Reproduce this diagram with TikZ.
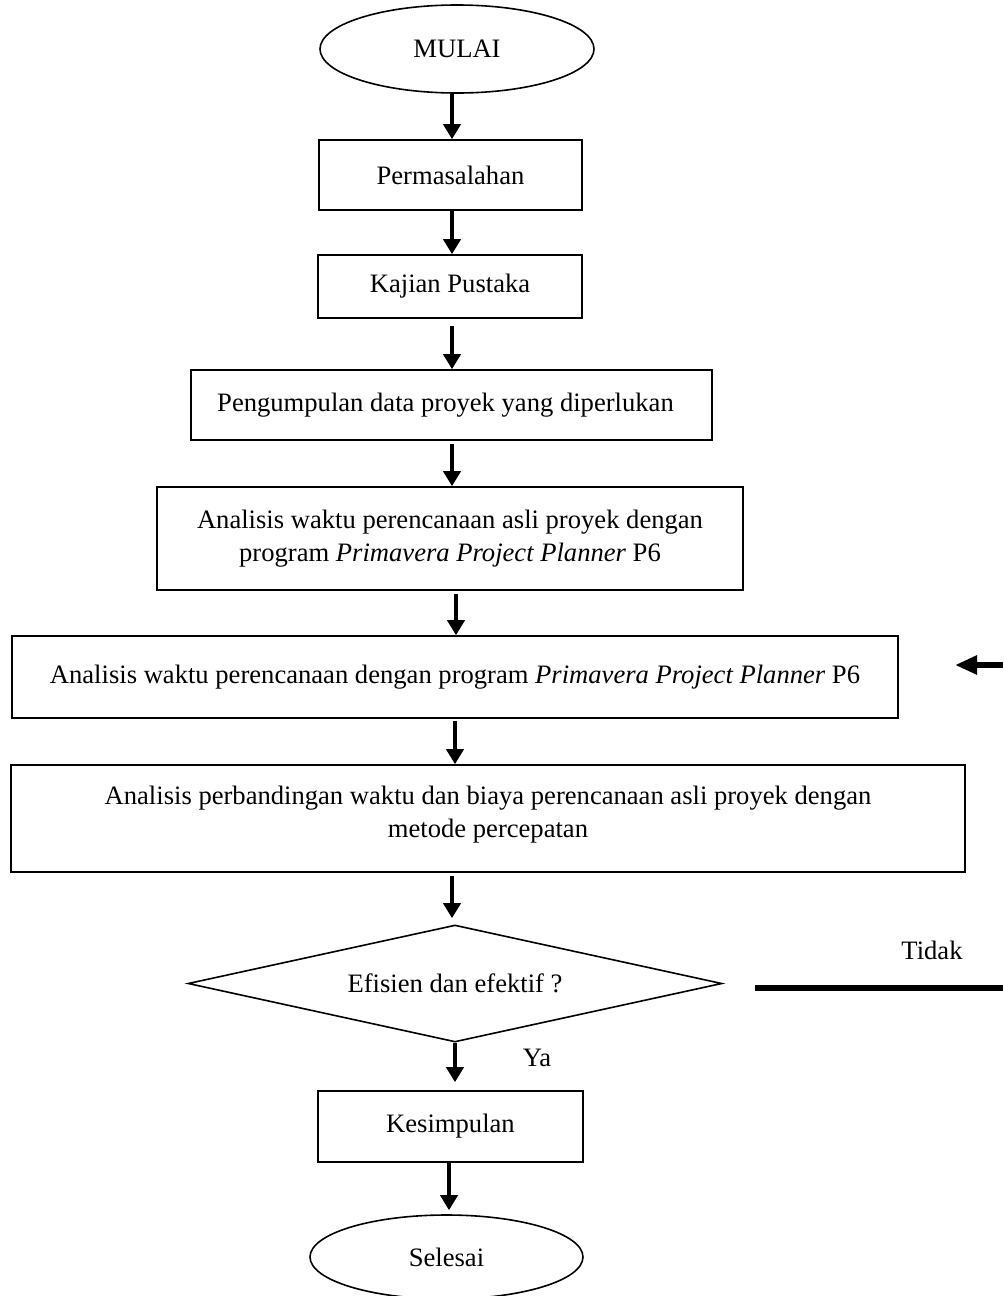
\documentclass[tikz,border=0pt]{standalone}
\usepackage{fontspec}
\setmainfont{Liberation Serif}
\usepackage{tikz}
\usetikzlibrary{positioning, arrows.meta, shapes.geometric}
\tikzset{
  flowbox/.style={draw, line width=0.8pt, rectangle, align=center, inner sep=2pt,
    font=\fontsize{13.3}{16.5}\selectfont},
  termbox/.style={draw, line width=0.8pt, ellipse, inner sep=0pt, font=\fontsize{13.3}{16.5}\selectfont},
  decbox/.style={draw, line width=0.8pt, diamond, aspect=4.56, inner sep=0pt, font=\fontsize{13.3}{16.5}\selectfont},
  arr/.style={-{Triangle[length=7.5pt, width=8.5pt]}, line width=2pt},
  fbline/.style={line width=3pt},
  fbarr/.style={-{Triangle[length=11pt, width=9pt]}, line width=3.2pt},
  lbl/.style={font=\fontsize{13.3}{14}\selectfont, inner sep=0pt},
}
\begin{document}
\begin{tikzpicture}[x=0.5pt, y=-0.5pt]
  \useasboundingbox (0,0) rectangle (1003,1296);
  \coordinate (spine) at (452,0);
  % terminals and steps
  \node[termbox, minimum width=137pt, minimum height=44pt] (mulai) at (457,49) {MULAI};
  \node[flowbox, minimum width=131.5pt, minimum height=35pt] (masalah) at (450.5,175) {Permasalahan};
  \node[flowbox, minimum width=132pt, minimum height=31.5pt] (pustaka) at (450,286.5) {Kajian Pustaka};
  \node[flowbox, minimum width=260.5pt, minimum height=35pt] (kumpul) at (451.5,405) {Pengumpulan data proyek yang diperlukan\hspace{6pt}};
  \node[flowbox, minimum width=293pt, minimum height=51.5pt] (asli) at (450,538.5)
    {Analisis waktu perencanaan asli proyek dengan\\program \textit{Primavera Project Planner} P6};
  \node[flowbox, minimum width=443pt, minimum height=41pt] (rencana) at (455,677)
    {Analisis waktu perencanaan dengan program \textit{Primavera Project Planner} P6};
  \node[flowbox, minimum width=477pt, minimum height=53.5pt, text depth=7pt] (banding) at (488,818.5)
    {Analisis perbandingan waktu dan biaya perencanaan asli proyek dengan\\metode percepatan};
  \node[decbox, minimum width=267pt, minimum height=58.5pt] (efektif) at (455,983.5) {Efisien dan efektif ?};
  \node[flowbox, minimum width=132.5pt, minimum height=35.5pt] (simpul) at (450.5,1126.5) {Kesimpulan};
  \node[termbox, minimum width=136.5pt, minimum height=42pt] (selesai) at (446.5,1257) {Selesai};
  % labels
  \node[lbl] (ya) at (537,1058) {Ya};
  \node[lbl] (tidak) at (932,950) {Tidak};
  % main flow
  \draw[arr] (mulai.south -| spine) -- (masalah.north -| spine);
  \draw[arr] (masalah.south -| spine) -- (pustaka.north -| spine);
  \draw[arr, shorten <=3.5pt] (pustaka.south -| spine) -- (kumpul.north -| spine);
  \draw[arr, shorten <=1.5pt] (kumpul.south -| spine) -- (asli.north -| spine);
  \draw[arr, shorten <=1.5pt] ([xshift=2pt]asli.south -| spine) -- ([xshift=2pt]rencana.north -| spine);
  \draw[arr, shorten <=1pt] ([xshift=1.5pt]rencana.south -| spine) -- ([xshift=1.5pt]banding.north -| spine);
  \draw[arr, shorten <=1.5pt, shorten >=3pt] (banding.south -| spine) -- (efektif.north -| spine);
  \draw[arr, shorten >=4pt] ([xshift=1.5pt]efektif.south -| spine) -- ([xshift=1.5pt]simpul.north -| spine);
  \draw[arr, shorten >=2pt] ([xshift=-1.5pt]simpul.south -| spine) -- ([xshift=-1.5pt]selesai.north -| spine);
  % feedback (Tidak)
  \coordinate (tidakstart) at (755,988);
  \coordinate (tidakend) at (1003,988);
  \draw[fbline] (tidakstart) -- (tidakend);
  \coordinate (fbin) at (1003,665);
  \coordinate (fbtip) at (955,665);
  \draw[fbarr] (fbin) -- (fbtip);
\end{tikzpicture}
\end{document}
